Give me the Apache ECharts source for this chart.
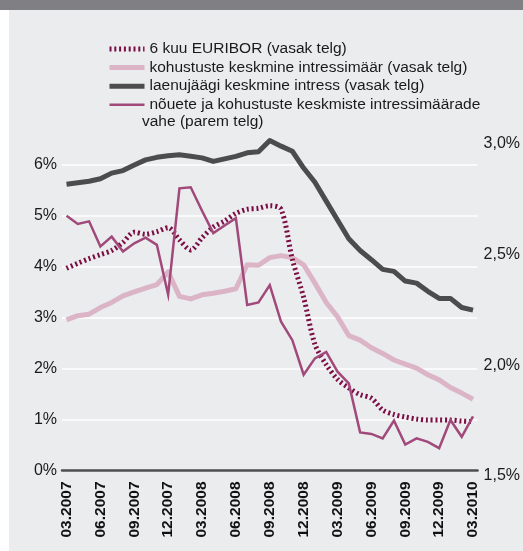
<!DOCTYPE html>
<html>
<head>
<meta charset="utf-8">
<script src="https://cdn.jsdelivr.net/npm/echarts@6/dist/echarts.min.js"></script>
<style>
  html, body { margin: 0; padding: 0; background: #ffffff; }
  #chart { width: 523px; height: 551px; }
</style>
</head>
<body>
<div id="chart"></div>
<script>
// Monthly observations, March 2007 – March 2010
const months = [
  '03.2007', '04.2007', '05.2007', '06.2007', '07.2007', '08.2007', '09.2007', '10.2007', '11.2007', '12.2007',
  '01.2008', '02.2008', '03.2008', '04.2008', '05.2008', '06.2008', '07.2008', '08.2008', '09.2008', '10.2008',
  '11.2008', '12.2008', '01.2009', '02.2009', '03.2009', '04.2009', '05.2009', '06.2009', '07.2009', '08.2009',
  '09.2009', '10.2009', '11.2009', '12.2009', '01.2010', '02.2010', '03.2010'
];

// Quarter labels shown under the axis
const xTickLabels = [
  '03.2007', '06.2007', '09.2007', '12.2007', '03.2008', '06.2008', '09.2008',
  '12.2008', '03.2009', '06.2009', '09.2009', '12.2009', '03.2010'
];

// Left-axis tick values (%)
const leftTicks = [0, 1, 2, 3, 4, 5, 6];
// Right-axis tick values (%)
const rightTicks = [1.5, 2.0, 2.5, 3.0];

// 6 kuu EURIBOR (vasak telg), %
const euribor = [
  3.97, 4.07, 4.16, 4.24, 4.32, 4.48, 4.68, 4.64, 4.69, 4.77,
  4.53, 4.33, 4.57, 4.78, 4.90, 5.05, 5.13, 5.15, 5.20, 5.13,
  4.15, 3.40, 2.48, 2.08, 1.79, 1.62, 1.49, 1.42, 1.19, 1.10,
  1.05, 1.01, 0.99, 0.99, 0.99, 0.97, 0.96
];

// kohustuste keskmine intressimäär (vasak telg), %
const liabilityRate = [
  2.96, 3.04, 3.07, 3.20, 3.30, 3.43, 3.51, 3.58, 3.65, 3.90,
  3.42, 3.37, 3.45, 3.48, 3.52, 3.57, 4.04, 4.03, 4.18, 4.22,
  4.18, 4.04, 3.68, 3.30, 3.02, 2.65, 2.56, 2.41, 2.30, 2.17,
  2.09, 2.01, 1.88, 1.78, 1.63, 1.52, 1.40
];

// laenujäägi keskmine intress (vasak telg), %
const loanRate = [
  5.62, 5.65, 5.68, 5.73, 5.84, 5.89, 6.00, 6.10, 6.15, 6.18,
  6.20, 6.17, 6.14, 6.07, 6.12, 6.17, 6.24, 6.26, 6.48, 6.37,
  6.27, 5.94, 5.66, 5.29, 4.92, 4.55, 4.32, 4.14, 3.95, 3.91,
  3.72, 3.68, 3.52, 3.38, 3.38, 3.20, 3.15
];

// nõuete ja kohustuste keskmiste intressimäärade vahe (parem telg), %
const spread = [
  2.649, 2.612, 2.624, 2.511, 2.555, 2.488, 2.525, 2.550, 2.518, 2.293,
  2.773, 2.778, 2.672, 2.571, 2.605, 2.638, 2.247, 2.258, 2.336, 2.171,
  2.088, 1.932, 2.006, 2.035, 1.946, 1.893, 1.672, 1.665, 1.645, 1.725,
  1.617, 1.645, 1.629, 1.601, 1.728, 1.652, 1.744
];

const seriesNames = [
  '6 kuu EURIBOR (vasak telg)',
  'kohustuste keskmine intressimäär (vasak telg)',
  'laenujäägi keskmine intress (vasak telg)',
  'nõuete ja kohustuste keskmiste intressimäärade'
];
const legendSecondLine = 'vahe (parem telg)';

const FONT = '"Liberation Sans", Arial, Helvetica, sans-serif';
const TEXT = '#1a1a1a';

const COLORS = {
  euribor: '#7a0d44',
  liability: '#dbb5c6',
  loan: '#4c4c4e',
  spread: '#a0497a'
};

const byMonth = arr => arr.map((v, i) => [i, v]);
const tickIndex = xTickLabels.map(l => months.indexOf(l));

const chart = echarts.init(document.getElementById('chart'), null, { renderer: 'canvas' });

chart.setOption({
  animation: false,
  backgroundColor: '#ebecee',
  textStyle: { fontFamily: FONT },
  graphic: [
    { type: 'rect', left: 0, top: 0, shape: { width: 523, height: 10 }, style: { fill: '#7f7f84' }, silent: true },
    { type: 'rect', left: 0, top: 10, shape: { width: 9, height: 541 }, style: { fill: '#ffffff' }, silent: true },
    {
      type: 'text', left: 142, top: 114,
      style: { text: legendSecondLine, font: '15.5px ' + FONT, fill: TEXT }
    }
  ],
  legend: {
    left: 102,
    top: 36,
    orient: 'vertical',
    itemWidth: 35,
    itemHeight: 12,
    itemGap: 2.6,
    selectedMode: false,
    // line-only keys: the marker dot is made fully transparent
    itemStyle: { opacity: 0 },
    data: [
      { name: seriesNames[0], lineStyle: { width: 5, type: [2, 2.8], cap: 'butt', color: COLORS.euribor } },
      { name: seriesNames[1], lineStyle: { width: 5, color: COLORS.liability } },
      { name: seriesNames[2], lineStyle: { width: 5, color: COLORS.loan } },
      { name: seriesNames[3], lineStyle: { width: 2.5, color: COLORS.spread } }
    ],
    textStyle: { fontSize: 15.5, lineHeight: 16, color: TEXT, fontFamily: FONT }
  },
  grid: { left: 62, right: 45, top: 138, bottom: 80.5, containLabel: false },
  xAxis: {
    type: 'value',
    min: -0.4,
    max: 36.4,
    axisLine: { show: true, onZero: false, lineStyle: { color: '#4d4d4f', width: 2.5 } },
    axisTick: { show: false },
    splitLine: { show: false },
    axisLabel: {
      customValues: tickIndex,
      formatter: v => months[Math.round(v)],
      rotate: 90,
      margin: 11,
      fontSize: 15.5,
      fontWeight: 'bold',
      color: '#111111',
      fontFamily: FONT
    }
  },
  yAxis: [
    {
      type: 'value',
      min: 0,
      max: 6.53,
      interval: 1,
      axisLine: { show: false },
      axisTick: { show: false },
      splitLine: { show: true, showMaxLine: false, lineStyle: { color: '#ffffff', width: 1.5 } },
      axisLabel: {
        showMaxLabel: false,
        margin: 5,
        fontSize: 16,
        color: TEXT,
        fontFamily: FONT,
        formatter: v => (leftTicks.indexOf(v) >= 0 ? v + '%' : '')
      }
    },
    {
      type: 'value',
      position: 'right',
      min: 1.5,
      max: 3.0,
      interval: 0.5,
      axisLine: { show: false },
      axisTick: { show: false },
      splitLine: { show: false },
      axisLabel: {
        margin: 6,
        fontSize: 16,
        color: TEXT,
        fontFamily: FONT,
        verticalAlign: 'top',
        lineHeight: 11,
        formatter: v => (rightTicks.indexOf(v) >= 0 ? v.toFixed(1).replace('.', ',') + '%' : '')
      }
    }
  ],
  series: [
    {
      name: seriesNames[1],
      type: 'line',
      yAxisIndex: 0,
      data: byMonth(liabilityRate),
      symbol: 'none',
      lineStyle: { color: COLORS.liability, width: 5, join: 'round' },
      itemStyle: { color: COLORS.liability },
      z: 2
    },
    {
      name: seriesNames[2],
      type: 'line',
      yAxisIndex: 0,
      data: byMonth(loanRate),
      symbol: 'none',
      lineStyle: { color: COLORS.loan, width: 5, join: 'round' },
      itemStyle: { color: COLORS.loan },
      z: 3
    },
    {
      name: seriesNames[0],
      type: 'line',
      yAxisIndex: 0,
      data: byMonth(euribor),
      symbol: 'none',
      smooth: 0.3,
      lineStyle: { color: COLORS.euribor, width: 5, type: [2, 2.8], cap: 'butt' },
      itemStyle: { color: COLORS.euribor },
      z: 4
    },
    {
      name: seriesNames[3],
      type: 'line',
      yAxisIndex: 1,
      data: byMonth(spread),
      symbol: 'none',
      lineStyle: { color: COLORS.spread, width: 2.5, join: 'miter' },
      itemStyle: { color: COLORS.spread },
      z: 5
    }
  ]
});
</script>
</body>
</html>
